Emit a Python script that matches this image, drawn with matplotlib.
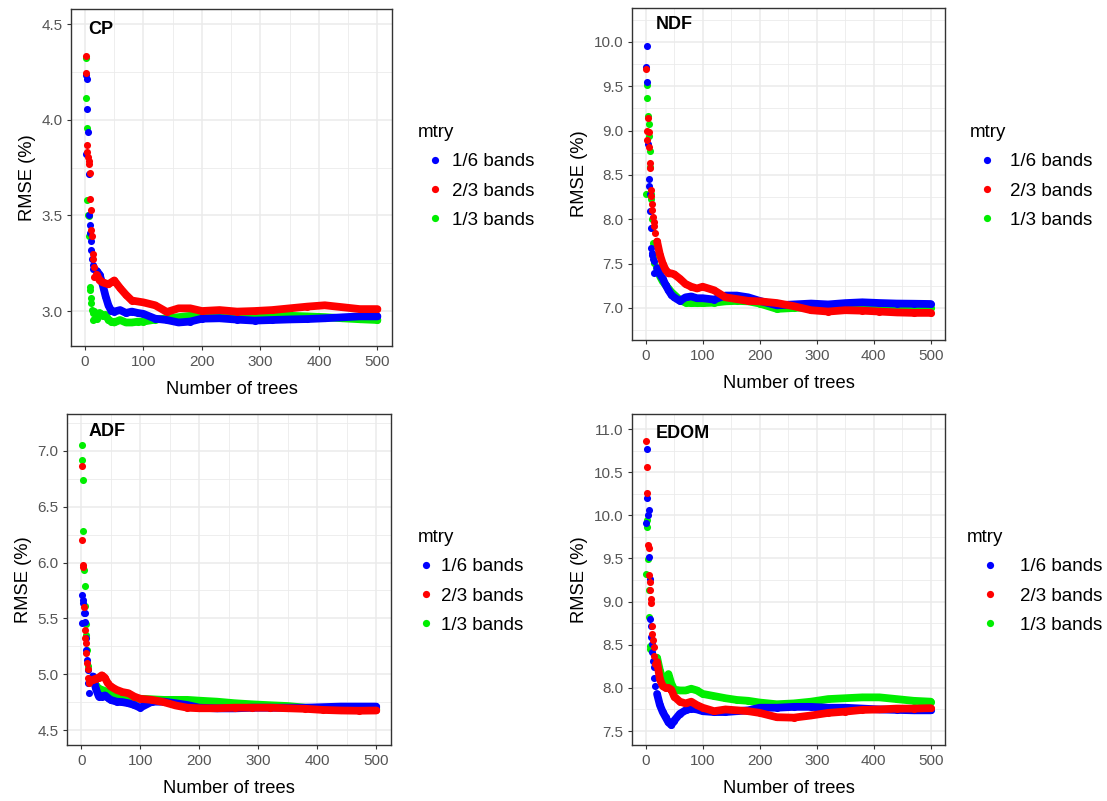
import matplotlib
matplotlib.use('Agg')
import matplotlib.pyplot as plt
import matplotlib.ticker as ticker
from matplotlib.lines import Line2D

plt.rcParams['font.family'] = ['Liberation Sans', 'DejaVu Sans']

# mtry settings (legend order) and colours
mtry_labels = ['1/6 bands', '2/3 bands', '1/3 bands']
mtry_colors = ['#0000FF', '#FF0000', '#00EE00']

# first trees are read one by one (tree 1, 2, 3 ...), after that at these tree counts
trees_tail = [20, 25, 30, 35, 40, 45, 50, 60, 70, 80, 90, 100, 120, 140, 160,
              180, 200, 230, 260, 290, 320, 350, 380, 410, 440, 470, 500]

# ---- CP ----
cp_m16_head = [3.822, 4.235, 4.213, 4.058, 3.934, 3.718, 3.503, 3.45, 3.41, 3.364,
               3.317, 3.27, 3.242, 3.22]
cp_m16_tail = [3.21, 3.19, 3.14, 3.08, 3.03, 3.00, 2.997, 3.005, 2.99, 2.997, 2.99,
               2.985, 2.96, 2.953, 2.94, 2.945, 2.96, 2.962, 2.955, 2.95, 2.953,
               2.956, 2.958, 2.962, 2.967, 2.972, 2.972]
cp_m23_head = [4.334, 4.247, 3.834, 3.866, 3.805, 3.787, 3.77, 3.721, 3.585, 3.53,
               3.425, 3.39, 3.30, 3.27, 3.23, 3.18]
cp_m23_tail = [3.19, 3.16, 3.15, 3.145, 3.14, 3.15, 3.16, 3.12, 3.085, 3.055, 3.05,
               3.045, 3.03, 2.995, 3.014, 3.014, 3.0, 3.005, 2.997, 3.0, 3.005,
               3.014, 3.023, 3.03, 3.02, 3.01, 3.01]
cp_m13_head = [4.113, 4.322, 3.96, 3.582, 3.503, 3.495, 3.39, 3.127, 3.11, 3.068,
               3.04, 3.005, 2.955, 2.99, 2.96, 3.0]
cp_m13_tail = [2.96, 2.99, 2.975, 2.98, 2.955, 2.945, 2.94, 2.953, 2.94, 2.94, 2.944,
               2.945, 2.955, 2.962, 2.968, 2.975, 2.98, 2.98, 2.98, 2.978, 2.978,
               2.975, 2.972, 2.968, 2.962, 2.957, 2.953]

# ---- NDF ----
ndf_m16_head = [9.714, 9.951, 9.545, 8.85, 8.455, 8.38, 8.28, 8.09, 7.90, 7.68,
                7.60, 7.62, 7.55, 7.53, 7.39]
ndf_m16_tail = [7.45, 7.38, 7.33, 7.26, 7.2, 7.15, 7.12, 7.08, 7.12, 7.13, 7.11,
                7.11, 7.095, 7.14, 7.14, 7.12, 7.08, 7.03, 7.04, 7.05, 7.04,
                7.055, 7.064, 7.056, 7.05, 7.048, 7.045]
ndf_m23_head = [9.695, 9.0, 8.90, 9.14, 8.98, 8.82, 8.635, 8.58, 8.335, 8.26,
                8.17, 8.1, 8.03, 7.97, 7.92, 7.85]
ndf_m23_tail = [7.75, 7.6, 7.5, 7.43, 7.39, 7.39, 7.38, 7.33, 7.27, 7.24, 7.22,
                7.24, 7.2, 7.12, 7.1, 7.08, 7.075, 7.056, 7.02, 6.975, 6.96,
                6.975, 6.97, 6.96, 6.95, 6.945, 6.945]
ndf_m13_head = [8.28, 9.365, 9.52, 9.17, 9.07, 8.94, 8.77, 8.59, 8.28, 8.23,
                8.0, 7.9, 7.73, 7.6, 7.51]
ndf_m13_tail = [7.45, 7.36, 7.3, 7.26, 7.22, 7.18, 7.15, 7.09, 7.06, 7.055, 7.056,
                7.055, 7.06, 7.075, 7.08, 7.075, 7.05, 6.99, 7.0, 7.01, 7.02,
                7.02, 7.02, 7.02, 7.015, 7.01, 7.0]

# ---- ADF ----
adf_m16_head = [5.456, 5.71, 5.665, 5.635, 5.545, 5.47, 5.55, 5.32, 5.217, 5.127,
                5.04, 4.92, 4.83]
adf_m16_tail = [4.98, 4.87, 4.80, 4.80, 4.81, 4.79, 4.77, 4.754, 4.75, 4.74, 4.724,
                4.70, 4.754, 4.754, 4.74, 4.724, 4.70, 4.694, 4.694, 4.70, 4.70,
                4.70, 4.70, 4.705, 4.71, 4.71, 4.71]
adf_m23_head = [6.866, 6.2, 5.98, 5.963, 5.605, 5.396, 5.32, 5.276, 5.19, 5.10,
                5.05, 4.963, 4.92, 4.93, 4.95]
adf_m23_tail = [4.95, 4.96, 4.97, 4.99, 4.97, 4.92, 4.89, 4.86, 4.84, 4.83, 4.80,
                4.78, 4.77, 4.75, 4.72, 4.70, 4.695, 4.695, 4.70, 4.70, 4.70,
                4.695, 4.69, 4.68, 4.675, 4.673, 4.675]
adf_m13_head = [6.92, 7.054, 6.74, 6.283, 5.934, 5.794, 5.61, 5.45, 5.35, 5.217,
                5.07]
adf_m13_tail = [4.95, 4.9, 4.87, 4.86, 4.85, 4.84, 4.83, 4.82, 4.8, 4.79, 4.784,
                4.78, 4.775, 4.77, 4.77, 4.77, 4.763, 4.754, 4.74, 4.73, 4.722,
                4.715, 4.70, 4.695, 4.69, 4.69, 4.685]

# ---- EDOM ----
edom_m16_head = [9.905, 10.77, 10.197, 10.0, 10.06, 9.52, 9.266, 8.80, 8.72, 8.59,
                 8.51, 8.41, 8.31, 8.24, 8.12, 8.02]
edom_m16_tail = [7.93, 7.8, 7.72, 7.66, 7.6, 7.57, 7.62, 7.70, 7.74, 7.76, 7.75,
                 7.73, 7.72, 7.72, 7.73, 7.74, 7.77, 7.77, 7.78, 7.78, 7.77,
                 7.77, 7.76, 7.75, 7.745, 7.74, 7.74]
edom_m23_head = [10.856, 10.558, 10.255, 9.653, 9.626, 9.312, 9.227, 9.13, 9.03,
                 8.98, 8.72, 8.63, 8.55, 8.47, 8.37, 8.28]
edom_m23_tail = [8.3, 8.1, 8.02, 8.0, 8.0, 7.98, 7.9, 7.84, 7.82, 7.84, 7.8,
                 7.77, 7.73, 7.75, 7.74, 7.73, 7.71, 7.66, 7.655, 7.68, 7.71,
                 7.725, 7.745, 7.75, 7.76, 7.76, 7.765]
edom_m13_head = [9.32, 9.945, 9.867, 9.49, 9.14, 8.82, 8.49, 8.45]
edom_m13_tail = [8.35, 8.2, 8.1, 8.05, 8.16, 8.05, 7.98, 7.97, 7.97, 7.99, 7.97,
                 7.93, 7.905, 7.88, 7.86, 7.85, 7.83, 7.81, 7.82, 7.84, 7.87,
                 7.88, 7.89, 7.89, 7.87, 7.85, 7.84]

W, H = 1107, 801
fig = plt.figure(figsize=(W / 100, H / 100), dpi=100)


def px_axes(left, top, right, bottom):
    return fig.add_axes([left / W, 1 - bottom / H, (right - left) / W, (bottom - top) / H])


def draw_panel(ax, name, heads, tails, ylim, yticks, label_pos):
    # green underneath, then blue, red on top
    for z, i in enumerate([2, 0, 1]):
        head, tail, color = heads[i], tails[i], mtry_colors[i]
        head_x = list(range(1, len(head) + 1))
        ax.plot(trees_tail, tail, color=color, lw=5.6, solid_capstyle='round',
                solid_joinstyle='round', zorder=3 + z)
        ax.scatter(head_x + trees_tail, head + tail, s=26, color=color,
                   linewidths=0, zorder=3 + z)
    ax.set_xlim(-23.95, 524.95)
    ax.set_ylim(*ylim)
    ax.set_xticks([0, 100, 200, 300, 400, 500])
    ax.xaxis.set_minor_locator(ticker.MultipleLocator(50))
    ax.set_yticks(yticks)
    ax.yaxis.set_minor_locator(ticker.MultipleLocator(0.25))
    ax.yaxis.set_major_formatter(ticker.FormatStrFormatter('%.1f'))
    ax.grid(which='major', color='#EBEBEB', lw=1.1)
    ax.grid(which='minor', color='#EBEBEB', lw=0.6)
    ax.set_axisbelow(True)
    for s in ax.spines.values():
        s.set_color('#333333')
        s.set_linewidth(1.0)
    ax.tick_params(which='major', direction='out', length=2.8, width=0.8,
                   color='#333333', labelcolor='#555555', labelsize=11, pad=3.5)
    ax.tick_params(which='minor', length=0)
    ax.set_xlabel('Number of trees', fontsize=13.2, labelpad=8.5)
    ax.set_ylabel('RMSE (%)', fontsize=13.2, labelpad=4)
    ax.text(label_pos[0], label_pos[1], name, transform=ax.transAxes,
            fontsize=13, fontweight='bold', ha='left', va='center')


def draw_legend(ax, x, y, hlen, pad):
    handles = [Line2D([], [], ls='none', marker='o', markersize=5.2,
                      markerfacecolor=c, markeredgewidth=0) for c in mtry_colors]
    leg = ax.legend(handles, mtry_labels, title='mtry', loc='upper left',
                    bbox_to_anchor=(x / W, 1 - y / H), bbox_transform=fig.transFigure,
                    frameon=False, fontsize=13.5, title_fontsize=13.5,
                    handlelength=hlen, handletextpad=pad, labelspacing=0.65,
                    borderpad=0, borderaxespad=0, alignment='left')
    return leg


ax_cp = px_axes(71, 9, 392, 346)
draw_panel(ax_cp, 'CP', [cp_m16_head, cp_m23_head, cp_m13_head],
           [cp_m16_tail, cp_m23_tail, cp_m13_tail],
           (2.817, 4.58), [3.0, 3.5, 4.0, 4.5], (0.054, 0.94))
draw_legend(ax_cp, 418, 124, 1.81, 0.0)

ax_ndf = px_axes(632, 8, 945, 340)
draw_panel(ax_ndf, 'NDF', [ndf_m16_head, ndf_m23_head, ndf_m13_head],
           [ndf_m16_tail, ndf_m23_tail, ndf_m13_tail],
           (6.639, 10.383), [7.0, 7.5, 8.0, 8.5, 9.0, 9.5, 10.0], (0.076, 0.949))
draw_legend(ax_ndf, 970, 124, 1.81, 0.32)

ax_adf = px_axes(67, 414, 391, 745)
draw_panel(ax_adf, 'ADF', [adf_m16_head, adf_m23_head, adf_m13_head],
           [adf_m16_tail, adf_m23_tail, adf_m13_tail],
           (4.366, 7.33), [4.5, 5.0, 5.5, 6.0, 6.5, 7.0], (0.065, 0.947))
draw_legend(ax_adf, 418, 529, 0.85, 0.37)

ax_edom = px_axes(632, 414, 945, 745)
draw_panel(ax_edom, 'EDOM', [edom_m16_head, edom_m23_head, edom_m13_head],
           [edom_m16_tail, edom_m23_tail, edom_m13_tail],
           (7.338, 11.174), [7.5, 8.0, 8.5, 9.0, 9.5, 10.0, 10.5, 11.0], (0.076, 0.942))
draw_legend(ax_edom, 967, 529, 2.45, 0.37)

fig.savefig('out.png', dpi=100, facecolor='white')
